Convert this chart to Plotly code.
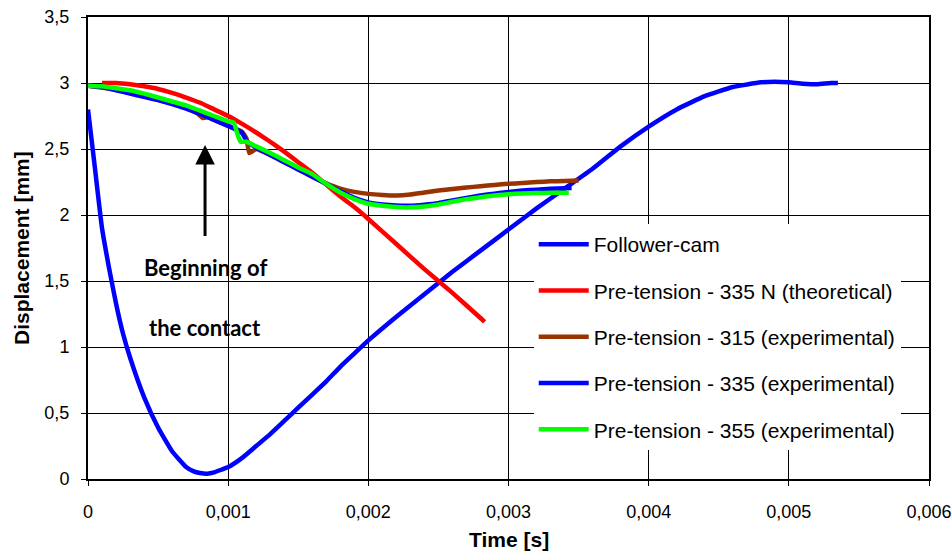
import plotly.graph_objects as go

# ---------------- data ----------------
cam_t = [0, 0.00005, 0.0001, 0.00015, 0.0002, 0.00025, 0.0003, 0.0004, 0.0005, 0.0006,
         0.0007, 0.00075, 0.0008, 0.00085, 0.0009, 0.00095, 0.001, 0.0011, 0.0012, 0.0013,
         0.0014, 0.0015, 0.0016, 0.0017, 0.0018, 0.0019, 0.002, 0.0022, 0.0024, 0.0026,
         0.0028, 0.003, 0.0032, 0.0034, 0.0036, 0.0038, 0.004, 0.0042, 0.0044, 0.0046,
         0.0048, 0.0049, 0.005, 0.0051, 0.0052, 0.0053, 0.00535]
cam_y = [2.80, 2.35, 1.90, 1.60, 1.33, 1.10, 0.92, 0.62, 0.39, 0.21,
         0.09, 0.06, 0.045, 0.04, 0.05, 0.07, 0.09, 0.16, 0.25, 0.34,
         0.44, 0.54, 0.64, 0.74, 0.85, 0.95, 1.05, 1.23, 1.40, 1.57,
         1.73, 1.89, 2.05, 2.20, 2.35, 2.52, 2.67, 2.80, 2.90, 2.97,
         3.005, 3.01, 3.005, 2.995, 2.99, 3.0, 3.0]

theo_t = [0.0001, 0.0002, 0.0003, 0.0004, 0.0005, 0.0006, 0.0007, 0.0008, 0.0009, 0.001,
          0.0011, 0.0012, 0.0013, 0.0014, 0.0015, 0.0016, 0.0017, 0.0018, 0.0019, 0.002,
          0.0022, 0.0024, 0.0026, 0.0028, 0.00283]
theo_y = [3.0, 3.0, 2.99, 2.975, 2.955, 2.925, 2.89, 2.85, 2.80, 2.75,
          2.69, 2.625, 2.555, 2.48, 2.40, 2.32, 2.23, 2.14, 2.06, 1.97,
          1.78, 1.59, 1.41, 1.22, 1.19]

p315_t = [0, 0.0002, 0.0004, 0.0006, 0.0007, 0.00078, 0.00082, 0.00086, 0.0009, 0.001,
          0.00105, 0.0011, 0.00113, 0.00115, 0.00117, 0.0012, 0.0013, 0.0014, 0.0015, 0.0016,
          0.0017, 0.0018, 0.0019, 0.002, 0.0021, 0.0022, 0.0023, 0.0024, 0.0025, 0.0026,
          0.0027, 0.0028, 0.0029, 0.003, 0.0031, 0.0032, 0.0033, 0.0034, 0.0035]
p315_y = [2.98, 2.95, 2.90, 2.845, 2.81, 2.77, 2.735, 2.74, 2.72, 2.675,
          2.655, 2.63, 2.58, 2.47, 2.48, 2.50, 2.455, 2.40, 2.345, 2.29,
          2.24, 2.20, 2.175, 2.16, 2.152, 2.148, 2.155, 2.17, 2.185, 2.197,
          2.208, 2.218, 2.228, 2.236, 2.243, 2.25, 2.255, 2.258, 2.262]

p335_t = [0, 0.0001, 0.0002, 0.0003, 0.0004, 0.0005, 0.0006, 0.0007, 0.0008, 0.0009,
          0.001, 0.00106, 0.0011, 0.00113, 0.0012, 0.0013, 0.0014, 0.0015, 0.0016, 0.0017,
          0.0018, 0.0019, 0.002, 0.0021, 0.0022, 0.0023, 0.0024, 0.0025, 0.0026, 0.0027,
          0.0028, 0.0029, 0.003, 0.0031, 0.0032, 0.0033, 0.0034, 0.00345]
p335_y = [2.98, 2.97, 2.945, 2.92, 2.895, 2.87, 2.84, 2.805, 2.765, 2.72,
          2.675, 2.645, 2.62, 2.565, 2.51, 2.455, 2.40, 2.345, 2.29, 2.235,
          2.18, 2.13, 2.095, 2.08, 2.072, 2.07, 2.078, 2.09, 2.11, 2.13,
          2.148, 2.162, 2.175, 2.185, 2.192, 2.198, 2.203, 2.205]

p355_t = [0, 0.0001, 0.0002, 0.0003, 0.0004, 0.0005, 0.0006, 0.0007, 0.0008, 0.0009,
          0.001, 0.00104, 0.00107, 0.00109, 0.00113, 0.0012, 0.0013, 0.0014, 0.0015, 0.0016,
          0.0017, 0.0018, 0.0019, 0.002, 0.0021, 0.0022, 0.0023, 0.0024, 0.0025, 0.0026,
          0.0027, 0.0028, 0.0029, 0.003, 0.0031, 0.0032, 0.0033, 0.00343]
p355_y = [2.98, 2.975, 2.96, 2.945, 2.92, 2.89, 2.86, 2.83, 2.79, 2.75,
          2.71, 2.70, 2.60, 2.555, 2.555, 2.52, 2.47, 2.415, 2.36, 2.31,
          2.235, 2.17, 2.12, 2.085, 2.07, 2.06, 2.058, 2.065, 2.08, 2.10,
          2.12, 2.135, 2.148, 2.158, 2.163, 2.166, 2.168, 2.168]

series_names = ["Follower-cam", "Pre-tension - 335 N (theoretical)",
                "Pre-tension - 315 (experimental)", "Pre-tension - 335 (experimental)",
                "Pre-tension - 355 (experimental)"]
series_colors = ["#0000FF", "#FF0000", "#993300", "#0000FF", "#00FF00"]

x_ticks = [0, 0.001, 0.002, 0.003, 0.004, 0.005, 0.006]
y_ticks = [0, 0.5, 1, 1.5, 2, 2.5, 3, 3.5]

# ---------------- figure ----------------
fig = go.Figure()
all_t = [cam_t, theo_t, p315_t, p335_t, p355_t]
all_y = [cam_y, theo_y, p315_y, p335_y, p355_y]
for i, (t, y) in enumerate(zip(all_t, all_y)):
    fig.add_trace(go.Scatter(
        x=t, y=y, mode="lines", name=series_names[i],
        legendgroup="g%d" % i,
        line=dict(color=series_colors[i], width=4.5, shape="spline", smoothing=0.4),
    ))

narrow = "Liberation Sans Narrow, Arial Narrow, Liberation Sans, Arial, sans-serif"
tick_font = dict(family=narrow, size=18, color="black")
title_font = dict(family=narrow, size=21, color="black")

fig.update_layout(
    width=952, height=554,
    margin=dict(l=88, r=23, t=17, b=75),
    paper_bgcolor="white", plot_bgcolor="white",
    separators=", ",
    showlegend=True,
    legend=dict(
        x=0.53, y=0.552, xanchor="left", yanchor="top",
        bgcolor="white", borderwidth=0,
        font=dict(family="Liberation Sans, Arial, sans-serif", size=21, color="black"),
        traceorder="grouped", tracegroupgap=16, itemwidth=50,
    ),
    xaxis=dict(
        range=[0, 0.006], tickvals=x_ticks, automargin=False,
        showgrid=True, gridcolor="black", gridwidth=1,
        zeroline=False, showline=True, linecolor="black", linewidth=2, mirror=True,
        ticks="outside", ticklen=5, tickcolor="black", tickwidth=1,
        tickfont=tick_font, ticklabelstandoff=10,
    ),
    yaxis=dict(
        range=[0, 3.5], tickvals=y_ticks, automargin=False,
        showgrid=True, gridcolor="black", gridwidth=1,
        zeroline=False, showline=True, linecolor="black", linewidth=2, mirror=True,
        ticks="outside", ticklen=5, tickcolor="black", tickwidth=1,
        tickfont=tick_font, ticklabelstandoff=8,
    ),
)

# axis titles
fig.add_annotation(x=-0.0797, y=0.5, xref="paper", yref="paper", text="<b>Displacement [mm]</b>",
                   textangle=-90, showarrow=False, font=title_font,
                   xanchor="center", yanchor="middle")
fig.add_annotation(x=0.5, y=-0.132, xref="paper", yref="paper", text="<b>Time [s]</b>",
                   showarrow=False, font=title_font, xanchor="center", yanchor="middle")

ann_font = dict(family="Lato, Open Sans, sans-serif", size=22, color="black")
fig.add_annotation(x=0.000835, y=2.53, ax=0.000835, ay=1.83, axref="x", ayref="y",
                   xref="x", yref="y", text="", showarrow=True,
                   arrowhead=2, arrowsize=1.3, arrowwidth=3, arrowcolor="black")
fig.add_annotation(x=0.000835, y=1.603, xref="x", yref="y", text="<b>Beginning of</b>",
                   showarrow=False, font=ann_font)
fig.add_annotation(x=0.000835, y=1.15, xref="x", yref="y", text="<b>the contact</b>",
                   showarrow=False, font=ann_font)

fig.write_html("out.html", config={"displayModeBar": False},
               post_script="document.body.style.margin='0';document.body.style.overflow='hidden';")
